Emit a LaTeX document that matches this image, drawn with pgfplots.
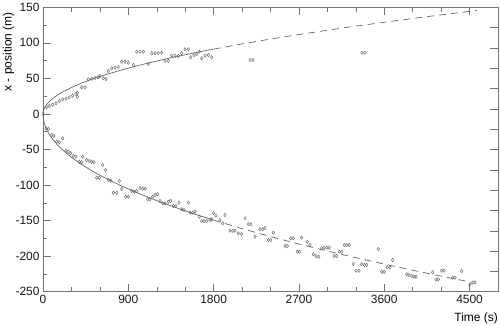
\documentclass[border=0pt]{standalone}
\usepackage{pgfplots}
\pgfplotsset{compat=1.18}
\usepackage{fontspec}
\setmainfont{Liberation Sans}
\begin{document}
\begin{tikzpicture}
\useasboundingbox (0,0) rectangle (500bp,326bp);
\begin{axis}[
  at={(43bp,34.3bp)}, anchor=south west,
  scale only axis, width=455bp, height=284.4bp,
  xmin=0, xmax=4800, ymin=-250, ymax=150,
  xtick={0,900,...,4500}, minor x tick num=2,
  ytick={-250,-200,...,150}, minor y tick num=1,
  ytick pos=left,
  tick align=inside,
  major tick length=8bp, minor tick length=4.5bp,
  every tick/.style={black!55, line width=0.5bp},
  axis line style={black!55, line width=0.6bp},
  font=\fontsize{12}{14}\selectfont,
  /pgf/number format/assume math mode=true,
  /pgf/number format/1000 sep={},
  tick label style={black!90},
  xlabel={Time (s)},
  ylabel={x - position (m)},
  xlabel style={at={(axis description cs:1,-0.0925)}, anchor=east, inner sep=0pt},
  ylabel style={at={(axis description cs:-0.076,0.843)}, anchor=center, inner sep=0pt},
]
% fit curves
\addplot[black!60, line width=0.7bp] coordinates {
(0,0)(2,3.04)(5,4.81)(10,6.80)(20,9.62)(40,13.6)(70,17.99)(100,21.5)(150,26.33)(200,30.41)(300,37.24)(400,43.0)(500,48.08)(600,52.66)(800,60.81)(1000,67.99)(1200,74.48)(1400,80.45)(1600,86.0)(1800,91.22)};
\addplot[black!60, line width=0.7bp, dash pattern=on 7bp off 5bp] coordinates {
(1800,91.22)(2100,98.53)(2400,105.33)(2700,111.72)(3000,117.76)(3300,123.51)(3600,129.0)(3900,134.27)(4200,139.34)(4500,144.22)(4580,145.5)};
\addplot[black!60, line width=0.7bp] coordinates {
(0,0)(2,-4.98)(5,-7.87)(10,-11.13)(20,-15.74)(40,-22.26)(70,-29.45)(100,-35.2)(150,-43.11)(200,-49.78)(300,-60.97)(400,-70.4)(500,-78.71)(600,-86.22)(800,-99.56)(1000,-111.31)(1200,-121.94)(1400,-131.71)(1600,-140.8)(1800,-149.34)};
\addplot[black!60, line width=0.7bp, dash pattern=on 7bp off 5bp] coordinates {
(1800,-149.34)(2100,-161.31)(2400,-172.45)(2700,-182.9)(3000,-192.8)(3300,-202.21)(3600,-211.2)(3900,-219.83)(4200,-228.12)(4480,-235.6)};
% upper data
\addplot[only marks, mark=diamond, mark size=1.7bp, black!60, mark options={line width=0.45bp, fill=none}] coordinates {
(0,0)(39,9.4)(66,11.2)(102,13)(137,15)(172,18.2)(208,20.6)(243,21.4)(277,23.4)(313,25.7)(348,28.1)(362,29.9)(362,24.3)
(408,37.5)(443,37.5)(478,48.7)(514,49.6)(549,50.6)(583,51.5)(601,53.4)(636,50.1)(665,49.2)(689,60.4)
(725,64.2)(760,65)(794,66)(830,73.5)(865,73.5)(900,72.1)(953,68.8)(989,87.6)(1023,87.6)(1058,87.6)
(1111,70.3)(1147,85.3)(1182,85.3)(1216,85.7)(1252,86.1)(1287,74.5)(1322,74.5)(1358,81.9)(1393,81.9)
(1427,81.5)(1463,85.3)(1498,90.9)(1533,90.9)(1558,79.7)(1593,82.9)(1622,83.9)(1649,87.6)(1674,78.3)
(1709,81.9)(1744,82.9)(1780,79.7)(2184,75.9)(2216,75.9)(3365,86.1)(3397,86.1)};
% lower data
\addplot[only marks, mark=diamond, mark size=1.7bp, black!60, mark options={line width=0.45bp, fill=none}] coordinates {
(32,-20.2)(56,-21.2)(92,-29.6)(116,-31)(145,-39)(172,-39.9)(208,-34.3)(243,-51.7)(267,-53.1)(292,-55.3)
(320,-59.1)(348,-60.1)(383,-67.2)(408,-68)(419,-60.1)(461,-64.8)(488,-66.2)(514,-67.2)(538,-68)
(630,-71.8)(661,-78.8)(567,-89.7)(594,-89.7)(689,-92.9)(714,-93.9)(805,-94.3)(742,-110.8)(778,-110.8)
(830,-105.6)(872,-116.4)(900,-116.4)(936,-108.4)(963,-109.4)(989,-108.4)(1023,-104.2)(1052,-105.1)
(1079,-105.1)(1105,-120)(1129,-120)(1157,-116.4)(1182,-114)(1206,-113)(1234,-122.4)(1263,-125.7)
(1287,-125.7)(1322,-123.4)(1347,-122.4)(1375,-129.5)(1403,-129.5)(1435,-124.8)(1463,-134.1)(1488,-135.1)
(1533,-124.8)(1551,-138.9)(1579,-138.9)(1604,-137.5)(1649,-144.5)(1674,-150.6)(1699,-150.6)(1727,-150.6)
(1762,-149.2)(1780,-148.2)(1797,-139.7)(1825,-143.1)(1867,-149.2)(1896,-153.8)(1920,-142.1)(1973,-164.2)
(2001,-164.2)(2026,-164.2)(2060,-167.9)(2096,-168.9)(2131,-146.8)(2166,-155.2)(2194,-155.2)(2237,-172.6)
(2289,-162.2)(2318,-162.2)(2342,-160.4)(2377,-177.3)(2402,-177.3)(2430,-167)(2553,-185.7)(2577,-185.7)
(2613,-174.9)(2641,-174.9)(2683,-193.7)(2704,-193.7)(2729,-174)(2788,-179.7)(2817,-184.3)(2852,-197.4)
(2880,-199.8)(2909,-200.8)(2940,-189)(2965,-188.1)(2993,-188.1)(3020,-188.1)(3070,-199.8)(3098,-199.8)
(3126,-193.7)(3151,-193.7)(3179,-184.3)(3204,-184.3)(3231,-184.3)(3274,-211)(3302,-220.5)(3334,-220.5)
(3362,-211.5)(3390,-212.4)(3415,-212.4)(3537,-190)(3573,-221.9)(3601,-221.9)(3632,-215.7)(3661,-215.7)
(3689,-205.4)(3837,-225.5)(3861,-226.5)(3890,-227.9)(3914,-228.9)(3935,-228.9)(4111,-222.7)(4146,-232.6)
(4170,-232.6)(4206,-220.5)(4231,-220.5)(4322,-230.3)(4347,-230.3)(4417,-220.9)(4505,-239.6)(4533,-237.3)
(4558,-236.8)};
\end{axis}
% right-hand tick set (14 equal divisions)
\begin{axis}[
  at={(43bp,34.3bp)}, anchor=south west,
  scale only axis, width=455bp, height=284.4bp,
  xmin=0, xmax=1, ymin=0, ymax=14,
  xtick=\empty, ytick={1,...,13}, yticklabels={},
  ytick pos=right, tick align=inside,
  major tick length=8bp,
  every tick/.style={black!55, line width=0.5bp},
  axis line style={draw=none},
]
\addplot[draw=none] coordinates {(0,0)(1,14)};
\end{axis}
\end{tikzpicture}
\end{document}
